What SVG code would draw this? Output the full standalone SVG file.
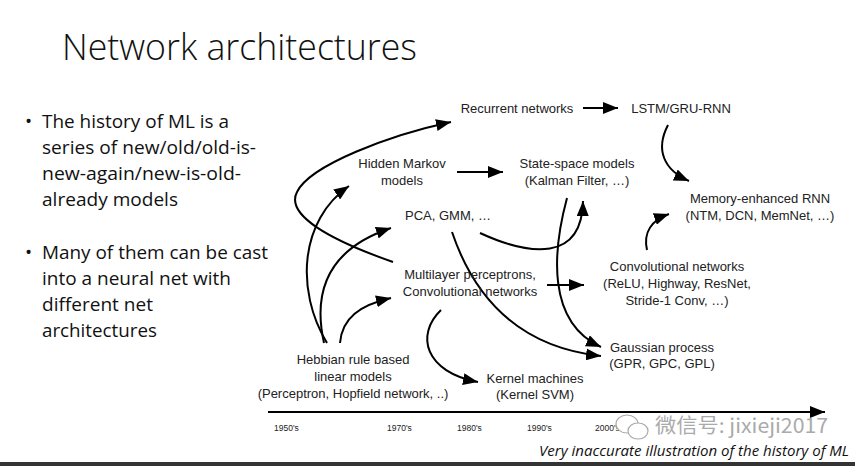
<svg xmlns="http://www.w3.org/2000/svg" width="855" height="466" viewBox="0 0 855 466">
<defs>
<marker id="ah" markerUnits="userSpaceOnUse" markerWidth="16" markerHeight="12" refX="15" refY="6" orient="auto">
<path d="M0,0 L15,6 L0,12 z" fill="#000"/>
</marker>
<style>
.t{font-family:"Liberation Sans",Arial,sans-serif;font-size:13px;fill:#222;text-anchor:middle}
.b{font-family:"Open Sans","Liberation Sans",sans-serif;font-size:19px;fill:#111}
.yr{font-family:"Liberation Sans",Arial,sans-serif;font-size:8.5px;fill:#222}
.c{fill:none;stroke:#000;stroke-width:2;marker-end:url(#ah)}
</style>
</defs>
<rect width="855" height="466" fill="#fff"/>
<rect x="0" y="462" width="855" height="4" fill="#333"/>
<text x="62" y="60" font-family="'Open Sans','Liberation Sans',sans-serif" font-weight="300" font-size="37" fill="#111" textLength="355" lengthAdjust="spacingAndGlyphs">Network architectures</text>
<g id="bullets">
<text class="b" x="25" y="128">•</text>
<text class="b" x="42" y="128" textLength="187" lengthAdjust="spacingAndGlyphs">The history of ML is a</text>
<text class="b" x="42" y="154" textLength="214" lengthAdjust="spacingAndGlyphs">series of new/old/old-is-</text>
<text class="b" x="42" y="180" textLength="199" lengthAdjust="spacingAndGlyphs">new-again/new-is-old-</text>
<text class="b" x="42" y="206" textLength="136" lengthAdjust="spacingAndGlyphs">already models</text>
<text class="b" x="25" y="259">•</text>
<text class="b" x="42" y="259" textLength="226" lengthAdjust="spacingAndGlyphs">Many of them can be cast</text>
<text class="b" x="42" y="285" textLength="189" lengthAdjust="spacingAndGlyphs">into a neural net with</text>
<text class="b" x="42" y="311" textLength="111" lengthAdjust="spacingAndGlyphs">different net</text>
<text class="b" x="42" y="337" textLength="115" lengthAdjust="spacingAndGlyphs">architectures</text>
</g>
<g id="connectors">
<path class="c" d="M583,108 L618,108"/>
<path class="c" d="M457,172 L503,172"/>
<path class="c" d="M668,125 C655,150 664,170 689,181"/>
<path class="c" d="M647,250 C643,232 652,220 669,214"/>
<path class="c" d="M480,233 C530,256 582,262 583,201"/>
<path class="c" d="M567,198 C553,250 546,322 601,347"/>
<path class="c" d="M452,232 C475,300 520,347 601,356"/>
<path class="c" d="M547,285 L584,285"/>
<path class="c" d="M441,310 C415,335 425,372 478,382"/>
<path class="c" d="M393,262 C330,240 285,215 297,192 C310,165 390,135 451,122"/>
<path class="c" d="M327,343 C295,290 300,220 349,186"/>
<path class="c" d="M324,343 C310,280 340,245 391,228"/>
<path class="c" d="M340,343 C342,318 360,305 391,298"/>
<path class="c" d="M268,412 L825,412"/>
</g>
<g id="recurrent"><text class="t" x="517" y="113">Recurrent networks</text></g>
<g id="lstm"><text class="t" x="681" y="113">LSTM/GRU-RNN</text></g>
<g id="hmm"><text class="t" x="402" y="168">Hidden Markov</text><text class="t" x="402" y="185">models</text></g>
<g id="statespace"><text class="t" x="577" y="168">State-space models</text><text class="t" x="577" y="185">(Kalman Filter, …)</text></g>
<g id="memory"><text class="t" x="760" y="203">Memory-enhanced RNN</text><text class="t" x="760" y="220">(NTM, DCN, MemNet, …)</text></g>
<g id="pca"><text class="t" x="448" y="220">PCA, GMM, …</text></g>
<g id="mlp"><text class="t" x="470" y="279">Multilayer perceptrons,</text><text class="t" x="470" y="296">Convolutional networks</text></g>
<g id="cnn"><text class="t" x="677" y="271">Convolutional networks</text><text class="t" x="677" y="288">(ReLU, Highway, ResNet,</text><text class="t" x="677" y="305">Stride-1 Conv, …)</text></g>
<g id="gp"><text class="t" x="662" y="352">Gaussian process</text><text class="t" x="662" y="368">(GPR, GPC, GPL)</text></g>
<g id="hebbian"><text class="t" x="353" y="364">Hebbian rule based</text><text class="t" x="353" y="381">linear models</text><text class="t" x="353" y="398">(Perceptron, Hopfield network, ..)</text></g>
<g id="kernel"><text class="t" x="535" y="383">Kernel machines</text><text class="t" x="535" y="399">(Kernel SVM)</text></g>
<g id="timeline-labels">
<text class="yr" x="274" y="431">1950's</text>
<text class="yr" x="387" y="431">1970's</text>
<text class="yr" x="457" y="431">1980's</text>
<text class="yr" x="527" y="431">1990's</text>
<text class="yr" x="595" y="431">2000's</text>
</g>
<g id="watermark" fill="none" stroke="#aaa" stroke-width="1.2">
<ellipse cx="627" cy="424" rx="11" ry="9" fill="#fff"/>
<ellipse cx="638" cy="431" rx="10" ry="8" fill="#fff"/>
<text x="655" y="433" font-family="'Noto Sans CJK SC','Liberation Sans',sans-serif" font-size="20" fill="#aaa" stroke="none" textLength="173" lengthAdjust="spacingAndGlyphs">微信号: jixieji2017</text>
</g>
<text x="539" y="456" font-family="'Open Sans','Liberation Sans',sans-serif" font-style="italic" font-size="14" fill="#111" textLength="310" lengthAdjust="spacingAndGlyphs">Very inaccurate illustration of the history of ML</text>
</svg>
